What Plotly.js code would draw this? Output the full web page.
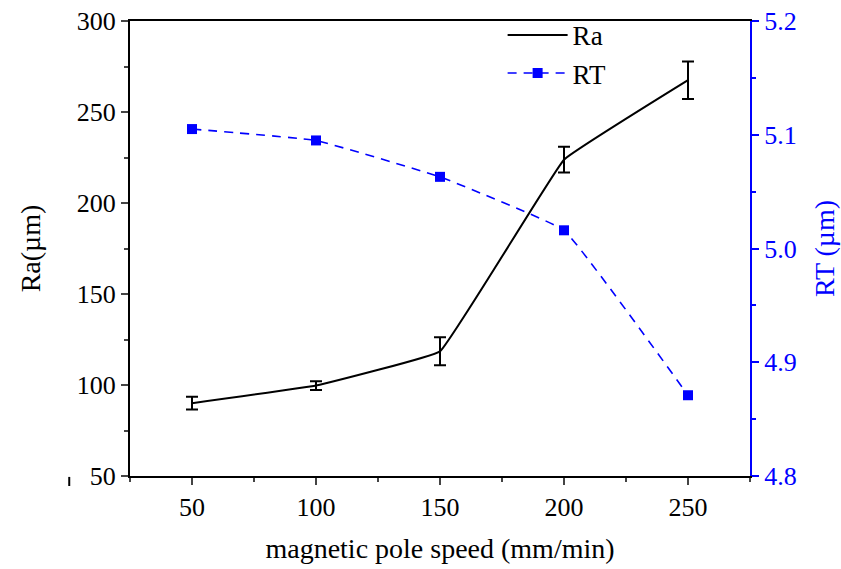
<!DOCTYPE html>
<html>
<head>
<meta charset="utf-8">
<script src="https://cdn.plot.ly/plotly-3.0.1.min.js"></script>
<style>body{margin:0;background:#fff;}#chart{width:841px;height:569px;}</style>
</head>
<body>
<div id="chart"></div>
<script>
const speed = [50, 100, 150, 200, 250];
const raValues = [90, 99.7, 118.5, 223.8, 267.5];
const raErrors = [3.5, 2.4, 7.7, 7.1, 10.3];
const rtValues = [5.105, 5.095, 5.063, 5.016, 4.871];
const xTicks = [50, 100, 150, 200, 250];

const font = "Liberation Serif";

const traces = [
  {
    x: speed, y: raValues, name: 'Ra', type: 'scatter', mode: 'lines',
    line: {color: 'black', width: 2, shape: 'spline', smoothing: 0.2},
    error_y: {type: 'data', array: raErrors, visible: true, color: 'black', thickness: 2, width: 6},
    yaxis: 'y'
  },
  {
    x: speed, y: rtValues, name: 'RT', type: 'scatter', mode: 'lines+markers',
    line: {color: '#0000ff', width: 1.6, dash: '9px,7px', shape: 'spline', smoothing: 0.25},
    marker: {symbol: 'square', size: 10, color: '#0000ff'},
    yaxis: 'y2'
  }
];

const layout = {
  width: 841, height: 569,
  margin: {l: 130, r: 91, t: 20, b: 93},
  paper_bgcolor: 'white', plot_bgcolor: 'white',
  font: {family: font, size: 26, color: 'black'},
  showlegend: true,
  legend: {
    x: 0.601, y: 1.02, xanchor: 'left', yanchor: 'top',
    bgcolor: 'rgba(0,0,0,0)', font: {family: font, size: 27, color: 'black'},
    tracegroupgap: 0, itemwidth: 60
  },
  xaxis: {
    range: [25, 275], tickvals: xTicks, ticks: 'outside', ticklen: 7, tickwidth: 2,
    showline: true, linecolor: 'black', linewidth: 2, mirror: true,
    showgrid: false, zeroline: false,
    minor: {dtick: 25, tick0: 25, ticks: 'outside', ticklen: 4, tickwidth: 2, showgrid: false},
    tickfont: {family: font, size: 26},
    title: {text: 'magnetic pole speed (mm/min)', font: {family: font, size: 28}, standoff: 17}
  },
  yaxis: {
    range: [50, 300], dtick: 50, ticks: 'outside', ticklen: 7, tickwidth: 2,
    showline: true, linecolor: 'black', linewidth: 2,
    showgrid: false, zeroline: false,
    minor: {dtick: 25, ticks: 'outside', ticklen: 4, tickwidth: 2, showgrid: false},
    tickfont: {family: font, size: 26},
    title: {text: 'Ra(µm)', font: {family: font, size: 28}, standoff: 28}
  },
  yaxis2: {
    range: [4.8, 5.2], dtick: 0.1, overlaying: 'y', side: 'right',
    ticks: 'outside', ticklen: 7, tickwidth: 2, tickcolor: '#0000ff',
    showline: true, linecolor: '#0000ff', linewidth: 2,
    showgrid: false, zeroline: false, tickformat: '.1f',
    minor: {dtick: 0.05, ticks: 'outside', ticklen: 4, tickwidth: 2, tickcolor: '#0000ff', showgrid: false},
    tickfont: {family: font, size: 26, color: '#0000ff'},
    title: {text: 'RT (µm)', font: {family: font, size: 28, color: '#0000ff'}, standoff: 19}
  },
  shapes: [
    {type: 'line', xref: 'paper', yref: 'paper', x0: -0.098, x1: -0.098, y0: -0.002, y1: -0.022,
     line: {color: 'black', width: 2}}
  ]
};

Plotly.newPlot('chart', traces, layout, {displayModeBar: false, staticPlot: true});
</script>
</body>
</html>
